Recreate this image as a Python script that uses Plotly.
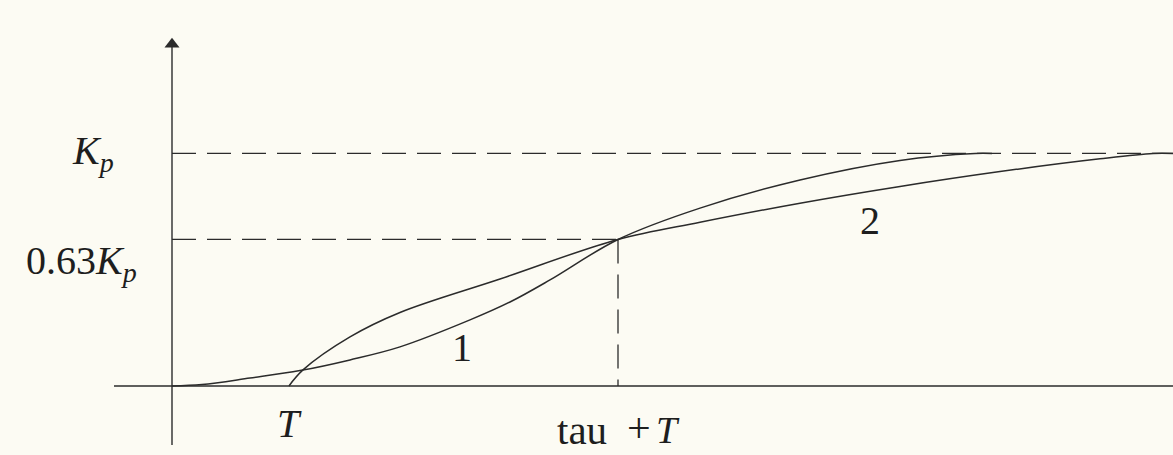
import plotly.graph_objects as go

# Step-response sketch: S-shaped process response (1) and its
# first-order-plus-dead-time approximation (2).
KP = 1.0
LEVEL_063 = 0.63
T_DELAY = 1.17          # T
T_63 = 4.46             # tau + T
T_END = 10.01

# curve 1: S-shaped measured response (time, value)
curve1_t = [0.0, 0.3, 0.78, 1.28, 1.78, 2.28, 2.98, 3.38, 3.78, 4.46, 5.28, 6.28, 7.28, 8.03, 8.2]
curve1_y = [0.0, 0.006, 0.034, 0.066, 0.112, 0.168, 0.284, 0.361, 0.456, 0.63, 0.765, 0.886, 0.97, 1.0, 1.0]

# curve 2: delayed first-order approximation (time, value)
curve2_t = [T_DELAY, 1.31, 1.78, 2.28, 3.28, 4.46, 5.28, 6.28, 7.28, 8.28, 9.28, 9.81, 10.01]
curve2_y = [0.0, 0.069, 0.211, 0.316, 0.46, 0.63, 0.704, 0.786, 0.858, 0.922, 0.977, 1.0, 1.0]

# axis extents
x_axis_start = -0.58
y_axis_bottom = -0.254
y_axis_top = 1.47

INK = "#2b2b2b"
BG = "#fcfbf3"
FONT = "Liberation Serif"

fig = go.Figure()

# horizontal axis
fig.add_trace(go.Scatter(x=[x_axis_start, T_END + 0.2], y=[0, 0], mode="lines",
                         line=dict(color=INK, width=1.4), hoverinfo="skip"))
# vertical axis with arrow head
fig.add_trace(go.Scatter(x=[0, 0], y=[y_axis_bottom, y_axis_top], mode="lines",
                         line=dict(color=INK, width=1.4), hoverinfo="skip"))
fig.add_trace(go.Scatter(x=[0], y=[y_axis_top], mode="markers",
                         marker=dict(symbol="triangle-up", size=13, color=INK,
                                     line=dict(width=0)), hoverinfo="skip"))

# dashed reference lines
dash = "24px,11px"
fig.add_trace(go.Scatter(x=[0, T_END + 0.2], y=[KP, KP], mode="lines",
                         line=dict(color=INK, width=1.3, dash=dash), hoverinfo="skip"))
fig.add_trace(go.Scatter(x=[0, T_63], y=[LEVEL_063, LEVEL_063], mode="lines",
                         line=dict(color=INK, width=1.3, dash=dash), hoverinfo="skip"))
fig.add_trace(go.Scatter(x=[T_63, T_63], y=[LEVEL_063, 0], mode="lines",
                         line=dict(color=INK, width=1.3, dash=dash), hoverinfo="skip"))

# response curves
fig.add_trace(go.Scatter(x=curve1_t, y=curve1_y, mode="lines", line_shape="spline",
                         line=dict(color=INK, width=1.5, smoothing=1.0), hoverinfo="skip"))
fig.add_trace(go.Scatter(x=curve2_t, y=curve2_y, mode="lines", line_shape="spline",
                         line=dict(color=INK, width=1.5, smoothing=1.0), hoverinfo="skip"))

def label(text, x, y, size=40):
    fig.add_annotation(x=x, y=y, xref="x", yref="y", text=text, showarrow=False,
                       xanchor="center", yanchor="middle",
                       font=dict(family=FONT, size=size, color="#1e1e1e"))

label("<i>K</i><sub><i>p</i></sub>", -0.79, 1.0)
label("0.63<i>K</i><sub><i>p</i></sub>", -0.91, 0.53)
label("<i>T</i>", T_DELAY, -0.16)
label("tau", 4.1, -0.19, size=41)
label("+", 4.67, -0.18, size=42)
label("<i>T</i>", 4.96, -0.19, size=38)
label("1", 2.9, 0.165)
label("2", 6.98, 0.71)

fig.update_layout(
    width=1173, height=455,
    margin=dict(l=0, r=0, t=0, b=0),
    paper_bgcolor=BG, plot_bgcolor=BG,
    showlegend=False,
    xaxis=dict(range=[-1.72, 10.01], visible=False, fixedrange=True),
    yaxis=dict(range=[-0.297, 1.660], visible=False, fixedrange=True),
)

fig.write_html("out.html")
